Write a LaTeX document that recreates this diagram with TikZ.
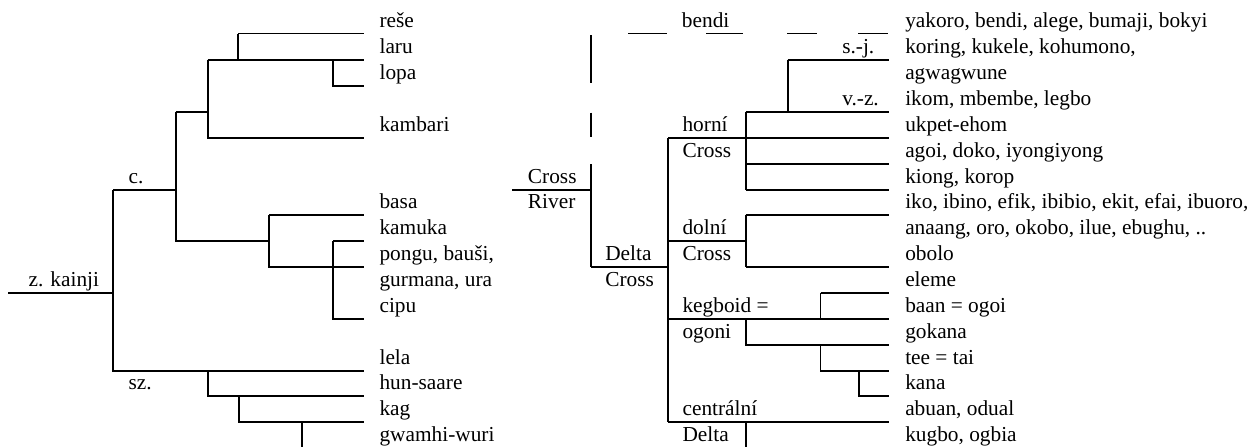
\documentclass[tikz,border=0pt]{standalone}
\usepackage{fontspec}
\setmainfont{Liberation Serif}
\begin{document}
\begin{tikzpicture}[x=0.75pt,y=-0.75pt,
  ln/.style={line width=1.4pt},
  lbl/.style={anchor=base west, inner sep=0pt, font=\fontsize{16}{19}\selectfont}]
\useasboundingbox (0,0) rectangle (1258,447);
% ---------- left tree ----------
\draw[ln] (238.3,33.5) -- (364.3,33.5);
\draw[ln] (238.3,33.5) -- (238.3,59.8);
\draw[ln] (207.7,59.8) -- (364.3,59.8);
\draw[ln] (333.3,59.8) -- (333.3,86) -- (364.3,86);
\draw[ln] (207.7,59.8) -- (207.7,137.7) -- (364.3,137.7);
\draw[ln] (175.7,111.8) -- (207.7,111.8);
\draw[ln] (175.7,111.8) -- (175.7,240.8) -- (269.3,240.8);
\draw[ln] (113.3,189.8) -- (175.7,189.8);
\draw[ln] (269.3,215.3) -- (364.3,215.3);
\draw[ln] (269.3,215.3) -- (269.3,266.7) -- (364.3,266.7);
\draw[ln] (333.3,240.8) -- (364.3,240.8);
\draw[ln] (333.3,240.8) -- (333.3,319) -- (364.3,319);
\draw[ln] (8.3,292.7) -- (113.3,292.7);
\draw[ln] (113.3,189.8) -- (113.3,370.7) -- (364.3,370.7);
\draw[ln] (207.7,370.7) -- (207.7,396) -- (364.3,396);
\draw[ln] (239,396) -- (239,421.8) -- (364.3,421.8);
\draw[ln] (301.7,421.8) -- (301.7,447);
% ---------- right tree ----------
% dashed parts
\draw[ln] (628.3,33.5) -- (666.7,33.5);
\draw[ln] (706,33.5) -- (743.3,33.5);
\draw[ln] (787.3,33.5) -- (817.3,33.5);
\draw[ln] (858.3,33.5) -- (888.3,33.5);
\draw[ln] (591,35) -- (591,83.3);
\draw[ln] (591,112.7) -- (591,136.5);
\draw[ln] (591,164) -- (591,266.7);
\draw[ln] (512.3,189.8) -- (591,189.8);
\draw[ln] (591,266.7) -- (668,266.7);
\draw[ln] (668,137.7) -- (668,421.8);
\draw[ln] (668,137.7) -- (889,137.7);
\draw[ln] (745.7,111.8) -- (745.7,189.8);
\draw[ln] (745.7,111.8) -- (889,111.8);
\draw[ln] (745.7,163.8) -- (889,163.8);
\draw[ln] (745.7,189.8) -- (889,189.8);
\draw[ln] (787.7,59.8) -- (787.7,111.8);
\draw[ln] (787.7,59.8) -- (889,59.8);
\draw[ln] (668,240.8) -- (745.7,240.8);
\draw[ln] (745.7,215.3) -- (745.7,266.7);
\draw[ln] (745.7,215.3) -- (889,215.3);
\draw[ln] (745.7,266.7) -- (889,266.7);
\draw[ln] (668,319) -- (889,319);
\draw[ln] (820.5,292.7) -- (820.5,319);
\draw[ln] (820.5,292.7) -- (889,292.7);
\draw[ln] (745.7,319) -- (745.7,344.7) -- (889,344.7);
\draw[ln] (820.5,344.7) -- (820.5,370.7) -- (889,370.7);
\draw[ln] (859.3,370.7) -- (859.3,396) -- (889,396);
\draw[ln] (668,421.8) -- (889,421.8);
\draw[ln] (745.7,421.8) -- (745.7,447);
% ---------- left labels ----------
\node[lbl] (l0) at (379.3,27.3) {reše};
\node[lbl] (l1) at (379.3,53.3) {laru};
\node[lbl] (l2) at (379.3,79.5) {lopa};
\node[lbl] (l4) at (379.3,131.2) {kambari};
\node[lbl] (l7) at (379.3,208.8) {basa};
\node[lbl] (l8) at (379.3,234.3) {kamuka};
\node[lbl] (l9) at (379.3,260.2) {pongu, bauši,};
\node[lbl] (l10) at (379.3,286.2) {gurmana, ura};
\node[lbl] (l11) at (379.3,312.4) {cipu};
\node[lbl] (l13) at (379.3,364.2) {lela};
\node[lbl] (l14) at (379.3,389.5) {hun-saare};
\node[lbl] (l15) at (379.3,415.3) {kag};
\node[lbl] (l16) at (379.3,441) {gwamhi-wuri};
\node[lbl] (c) at (128.3,183.3) {c.};
\node[lbl] (zk) at (28.3,286.2) {z. kainji};
\node[lbl] (sz) at (128.3,389.5) {sz.};
% ---------- middle labels ----------
\node[lbl] (bendi) at (681.7,27.3) {bendi};
\node[lbl] (cr1) at (527.7,183.3) {Cross};
\node[lbl] (cr2) at (527.7,208.8) {River};
\node[lbl] (dc1) at (605,260.2) {Delta};
\node[lbl] (dc2) at (605,286.2) {Cross};
\node[lbl] (hc1) at (682.3,131.2) {horní};
\node[lbl] (hc2) at (682.3,157.3) {Cross};
\node[lbl] (lc1) at (682.3,234.3) {dolní};
\node[lbl] (lc2) at (682.3,260.2) {Cross};
\node[lbl] (kg1) at (682.3,312.2) {kegboid =};
\node[lbl] (kg2) at (682.3,338) {ogoni};
\node[lbl] (cd1) at (682.3,415.3) {centrální};
\node[lbl] (cd2) at (682.3,441) {Delta};
\node[lbl] (sj) at (842,53.3) {s.-j.};
\node[lbl] (vz) at (842,105.3) {v.-z.};
% ---------- right labels ----------
\node[lbl] (r0) at (905,27.3) {yakoro, bendi, alege, bumaji, bokyi};
\node[lbl] (r1) at (905,53.3) {koring, kukele, kohumono,};
\node[lbl] (r2) at (905,79.5) {agwagwune};
\node[lbl] (r3) at (905,105.3) {ikom, mbembe, legbo};
\node[lbl] (r4) at (905,131.2) {ukpet-ehom};
\node[lbl] (r5) at (905,157.3) {agoi, doko, iyongiyong};
\node[lbl] (r6) at (905,183.3) {kiong, korop};
\node[lbl] (r7) at (905,208.8) {iko, ibino, efik, ibibio, ekit, efai, ibuoro,};
\node[lbl] (r8) at (905,234.3) {anaang, oro, okobo, ilue, ebughu, ..};
\node[lbl] (r9) at (905,260.2) {obolo};
\node[lbl] (r10) at (905,286.2) {eleme};
\node[lbl] (r11) at (905,312.4) {baan = ogoi};
\node[lbl] (r12) at (905,338) {gokana};
\node[lbl] (r13) at (905,364.2) {tee = tai};
\node[lbl] (r14) at (905,389.5) {kana};
\node[lbl] (r15) at (905,415.3) {abuan, odual};
\node[lbl] (r16) at (905,441) {kugbo, ogbia};
\end{tikzpicture}
\end{document}
